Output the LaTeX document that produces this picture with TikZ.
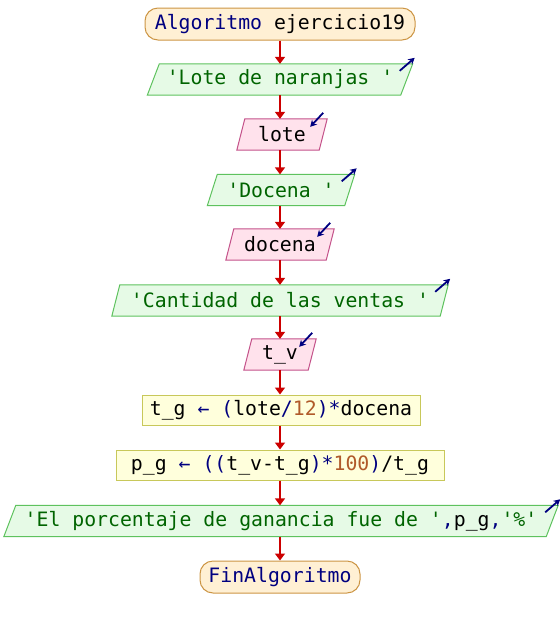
\documentclass[tikz,border=0pt]{standalone}
\usepackage{fontspec}
\setmonofont{DejaVu Sans Mono}
\usetikzlibrary{arrows.meta,calc,backgrounds}

\definecolor{kw}{HTML}{000080}
\definecolor{str}{HTML}{006400}
\definecolor{num}{HTML}{B05A2A}
\definecolor{termfill}{HTML}{FFF0D4}
\definecolor{termline}{HTML}{CC9544}
\definecolor{outfill}{HTML}{E6FAE6}
\definecolor{outline}{HTML}{5EC25E}
\definecolor{infill}{HTML}{FFE2EC}
\definecolor{inline}{HTML}{C4528A}
\definecolor{procfill}{HTML}{FFFFDC}
\definecolor{procline}{HTML}{C8C85A}
\definecolor{flowred}{HTML}{CC0000}

\newcommand\qt{\char"0027\relax}
\newcommand\kw[1]{\textcolor{kw}{#1}}
\newcommand\str[1]{\textcolor{str}{#1}}
\newcommand\num[1]{\textcolor{num}{#1}}

% parallelogram drawn behind a named node: name, slant, style
\newcommand\slantbox[3]{%
  \begin{scope}[on background layer]
    \draw[#3] (#1.south west) -- ($(#1.south east)+(-#2,0)$)
      -- (#1.north east) -- ($(#1.north west)+(#2,0)$) -- cycle;
  \end{scope}}

\tikzset{
  base/.style={font=\ttfamily\fontsize{19.8}{21}\selectfont, inner sep=0pt,
    minimum height=31pt},
  term/.style={base, draw=termline, fill=termfill, line width=1pt,
    rounded corners=13pt, minimum height=32pt},
  proc/.style={base, draw=procline, fill=procfill, line width=1pt,
    minimum height=30pt},
  iobody/.style={base},
  outshape/.style={draw=outline, fill=outfill, line width=1pt},
  inshape/.style={draw=inline, fill=infill, line width=1pt},
  flow/.style={draw=flowred, line width=2pt, -{Triangle[width=10pt,length=7pt]}},
  iomark/.style={draw=kw, line width=1.8pt, -{Stealth[length=6.5pt,width=7pt]}},
}

\begin{document}
\begin{tikzpicture}[x=1pt,y=-1pt]
  \useasboundingbox (0,0) rectangle (560,625);

  \node[term, minimum width=270pt] (start) at (280,24)
    {\kw{Algoritmo} ejercicio19};

  \node[iobody, minimum width=265pt] (o1) at (280,79.5)
    {\str{\qt Lote de naranjas \qt}};
  \node[iobody, minimum width=90pt] (i1) at (282,134.5) {lote};
  \node[iobody, minimum width=147pt] (o2) at (281,190) {\str{\qt Docena \qt}};
  \node[iobody, minimum width=108pt] (i2) at (280,244.5) {docena};
  \node[iobody, minimum width=336pt] (o3) at (280,300.5)
    {\str{\qt Cantidad de las ventas \qt}};
  \node[iobody, minimum width=72pt] (i3) at (280,354.5) {t\_v};

  \node[proc, minimum width=278pt] (p1) at (281,410)
    {t\_g \kw{← (}lote\kw{/}\num{12}\kw{)*}docena};
  \node[proc, minimum width=328pt] (p2) at (280,465)
    {p\_g \kw{← ((}t\_v-t\_g\kw{)*}\num{100}\kw{)}/t\_g};

  \node[iobody, minimum width=554pt] (o4) at (281,521)
    {\str{\qt El porcentaje de ganancia fue de \qt}\kw{,}p\_g\kw{,}\str{\qt\%\qt}};

  \node[term, minimum width=160pt] (end) at (280,577) {\kw{FinAlgoritmo}};

  % parallelogram outlines
  \slantbox{o1}{12pt}{outshape}
  \slantbox{i1}{8pt}{inshape}
  \slantbox{o2}{10pt}{outshape}
  \slantbox{i2}{8pt}{inshape}
  \slantbox{o3}{8pt}{outshape}
  \slantbox{i3}{8pt}{inshape}
  \slantbox{o4}{12pt}{outshape}

  % output / input markers at the top right corners
  \foreach \n in {o1,o2,o3,o4}
    \draw[iomark] ($(\n.north east)+(-13,7)$) -- ($(\n.north east)+(2,-6)$);
  \foreach \n in {i1,i2,i3}
    \draw[iomark] ($(\n.north east)+(-4,-6)$) -- ($(\n.north east)+(-17,8)$);

  % flow
  \draw[flow] (start.south -| 280,0) -- (o1.north -| 280,0);
  \draw[flow] (o1.south -| 280,0) -- (i1.north -| 280,0);
  \draw[flow] (i1.south -| 280,0) -- (o2.north -| 280,0);
  \draw[flow] (o2.south -| 280,0) -- (i2.north -| 280,0);
  \draw[flow] (i2.south -| 280,0) -- (o3.north -| 280,0);
  \draw[flow] (o3.south -| 280,0) -- (i3.north -| 280,0);
  \draw[flow] (i3.south -| 280,0) -- (p1.north -| 280,0);
  \draw[flow] (p1.south -| 280,0) -- (p2.north -| 280,0);
  \draw[flow] (p2.south -| 280,0) -- (o4.north -| 280,0);
  \draw[flow] (o4.south -| 280,0) -- (end.north -| 280,0);
\end{tikzpicture}
\end{document}
